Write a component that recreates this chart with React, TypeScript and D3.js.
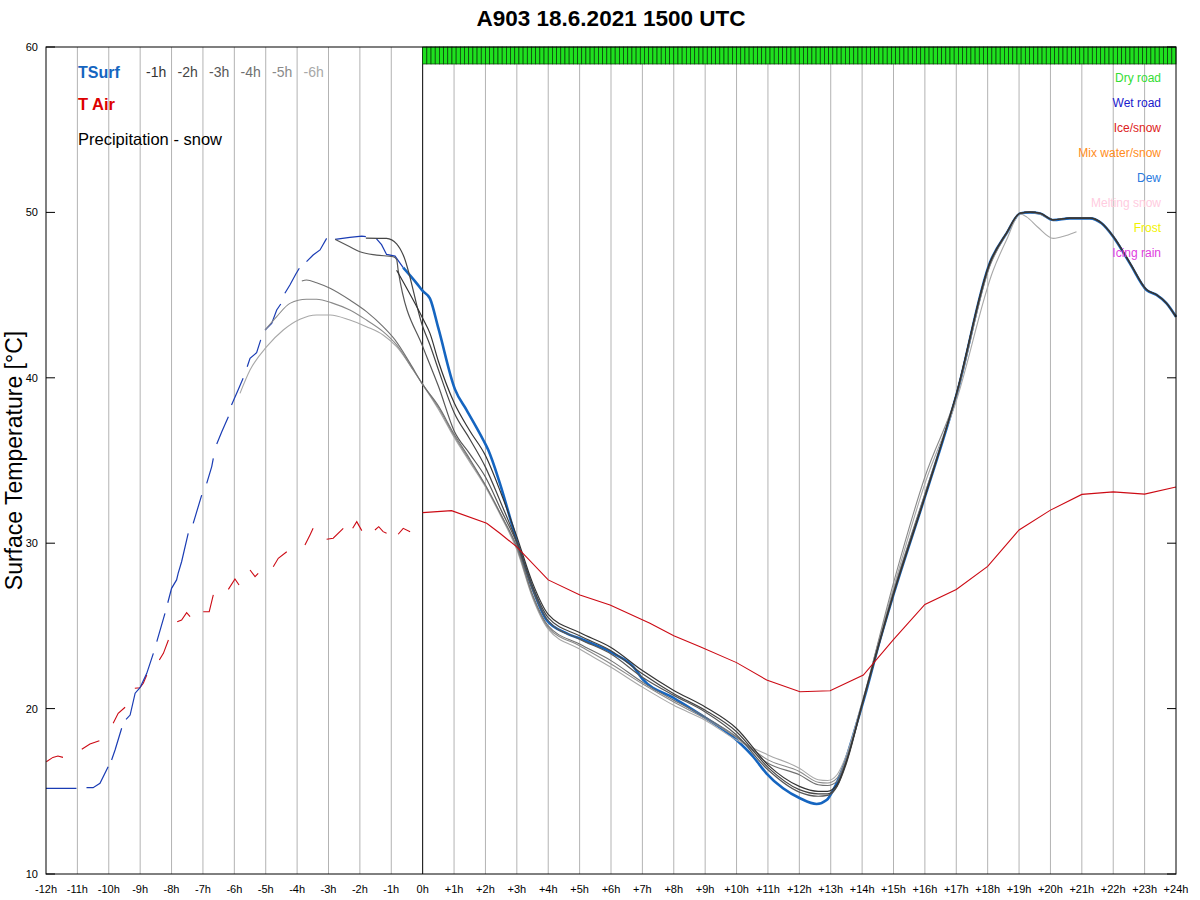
import React from "react";
import * as d3 from "d3";

type P = [number, number | null];

const TITLE = "A903 18.6.2021 1500 UTC";
const Y_LABEL = "Surface Temperature [°C]";
const yTicks = [10, 20, 30, 40, 50, 60];
const xTicks = d3.range(-12, 25);
const xTickLabel = (h: number) => (h > 0 ? `+${h}h` : `${h}h`);

const runLabels = ["-1h", "-2h", "-3h", "-4h", "-5h", "-6h"];
const runColors = ["#333333", "#454545", "#575757", "#707070", "#8a8a8a", "#a8a8a8"];

const roadLegend: [string, string][] = [
  ["Dry road", "#33dd33"],
  ["Wet road", "#1a1acc"],
  ["Ice/snow", "#dd2222"],
  ["Mix water/snow", "#ff8c1a"],
  ["Dew", "#2a7ae0"],
  ["Melting snow", "#ffcce0"],
  ["Frost", "#f2f200"],
  ["Icing rain", "#e040e0"],
];

// road state forecast (8-minute steps, 0h..+24h)
const roadStepH = 2 / 15;
const roadStates: string[] = Array.from({ length: 180 }, () => "Dry road");

// Observed surface temperature (null = gap)
const tsurfObs: P[] = [
  [-12, 15.18], [-11.03, 15.18], [-10.9, null],
  [-10.71, 15.22], [-10.5, 15.22], [-10.28, 15.48], [-10.02, 16.49], [-9.96, null],
  [-9.91, 16.89], [-9.8, 17.5], [-9.59, 18.81], [-9.5, null],
  [-9.45, 19.35], [-9.32, 19.61], [-9.16, 20.93], [-9.02, 21.23], [-8.99, 21.32], [-8.79, 22.13], [-8.58, 23.34], [-8.52, null],
  [-8.47, 24.05], [-8.21, 25.76], [-8.16, null],
  [-8.12, 26.4], [-8.0, 27.27], [-7.84, 27.78], [-7.79, 28.18], [-7.68, 28.88], [-7.47, 30.59], [-7.4, null],
  [-7.31, 31.2], [-7.04, 32.91], [-6.96, null],
  [-6.88, 33.62], [-6.72, 34.63], [-6.67, 35.13], [-6.6, null],
  [-6.56, 36.0], [-6.4, 36.74], [-6.19, 37.65], [-6.14, null],
  [-6.09, 38.36], [-5.88, 39.26], [-5.72, 39.97], [-5.65, null],
  [-5.59, 40.67], [-5.5, 41.18], [-5.29, 41.52], [-5.16, 42.29], [-5.09, null],
  [-5.02, 42.89], [-4.81, 43.29], [-4.65, 44.1], [-4.52, 44.46], [-4.45, null],
  [-4.39, 45.11], [-4.23, 45.61], [-4.04, 46.28], [-3.93, 46.62], [-3.8, null],
  [-3.7, 47.02], [-3.49, 47.42], [-3.27, 47.73], [-3.06, 48.43], [-2.9, null],
  [-2.79, 48.37], [-2.32, 48.49], [-1.94, 48.57], [-1.81, 48.53], [-1.6, null],
  [-1.47, 48.4], [-1.31, 48.05], [-1.15, 47.46], [-0.88, 47.36], [-0.62, 46.66],
];

// Observed air temperature (null = gap)
const tairObs: P[] = [
  [-11.99, 16.79], [-11.78, 17.05], [-11.62, 17.13], [-11.46, 17.05], [-11.2, null],
  [-10.86, 17.54], [-10.6, 17.86], [-10.3, 18.06], [-10.1, null],
  [-9.86, 19.11], [-9.7, 19.72], [-9.48, 20.08], [-9.3, null],
  [-9.17, 21.23], [-9.01, 21.26], [-8.9, 21.53], [-8.79, 22.03], [-8.6, null],
  [-8.39, 22.94], [-8.26, 23.34], [-8.1, 24.15], [-8.0, null],
  [-7.82, 25.25], [-7.68, 25.36], [-7.52, 25.8], [-7.41, 25.56], [-7.2, null],
  [-6.99, 25.86], [-6.8, 25.86], [-6.67, 26.87], [-6.4, null],
  [-6.19, 27.21], [-5.98, 27.84], [-5.85, 27.47], [-5.7, null],
  [-5.5, 28.38], [-5.34, 27.98], [-5.24, 28.18], [-5.0, null],
  [-4.76, 28.58], [-4.6, 29.09], [-4.33, 29.48], [-4.0, null],
  [-3.75, 29.89], [-3.59, 30.5], [-3.49, 30.9], [-3.3, null],
  [-3.06, 30.24], [-2.85, 30.3], [-2.53, 30.9], [-2.4, null],
  [-2.23, 30.9], [-2.1, 31.3], [-1.94, 30.76], [-1.7, null],
  [-1.52, 30.8], [-1.4, 31.0], [-1.26, 30.7], [-1.15, 30.6], [-0.95, null],
  [-0.78, 30.54], [-0.62, 30.9], [-0.4, 30.69],
];

// Air temperature forecast
const tairFc: [number, number][] = [
  [0, 31.85], [0.92, 31.97], [2.04, 31.2], [2.46, 30.6], [2.99, 29.79], [4.0, 27.78],
  [5.01, 26.87], [5.97, 26.26], [7.24, 25.16], [8.0, 24.4], [8.84, 23.74], [10.0, 22.78],
  [10.96, 21.73], [12.02, 21.02], [12.98, 21.08], [14.04, 22.03], [14.99, 24.15],
  [16.0, 26.3], [17.0, 27.2], [18.0, 28.6], [19.0, 30.8], [20.0, 32.0], [21.0, 32.95],
  [22.0, 33.1], [23.0, 32.97], [24.0, 33.4],
];

// Surface temperature forecast, current run (0h)
const tsurfFc: [number, number][] = [
  [-0.62, 46.66], [-0.19, 45.71], [0, 45.25], [0.23, 44.8], [0.5, 43.0], [1.03, 39.3],
  [1.4, 38.05], [1.93, 36.24], [2.09, 35.63], [2.46, 33.62], [2.99, 30.19], [3.52, 27.17],
  [3.95, 25.36], [4.59, 24.55], [5.12, 24.15], [6.07, 23.34], [6.71, 22.53], [7.0, 21.8],
  [8.0, 20.64], [8.84, 19.65], [10.0, 18.1], [10.53, 17.09], [10.95, 16.09], [11.48, 15.18],
  [12.02, 14.58], [12.55, 14.23], [12.87, 14.47], [13.08, 15.08], [13.4, 16.49], [13.83, 19.11],
  [14.14, 21.12], [14.57, 24.15], [15.0, 26.9], [16.0, 32.8], [17.02, 39.06], [18.08, 47.0],
  [18.6, 48.73], [19.03, 49.93], [19.35, 50.0], [19.67, 49.93], [20.09, 49.54], [20.62, 49.64],
  [21.26, 49.64], [21.63, 49.34], [22.0, 48.53], [22.53, 46.92], [23.06, 45.31], [23.38, 45.01],
  [23.7, 44.5], [24.0, 43.69],
];

// Earlier runs
const run1h: [number, number][] = [
  [-0.83, 46.5], [0, 43.6], [0.23, 42.7], [0.5, 41.0], [1, 38.5], [1.5, 36.8], [2, 35.3],
  [2.5, 33.0], [3, 30.4], [3.5, 27.6], [4, 25.7], [5, 24.6], [6, 23.7], [7, 22.3], [8, 21.1],
  [9, 20.1], [10, 18.8], [11, 16.6], [12, 15.3], [12.6, 15.0], [12.9, 15.0], [13.2, 15.4],
  [13.5, 16.8], [14, 20.3], [15, 26.95], [16, 32.8], [17, 39.0], [18.08, 47.0], [18.6, 48.75],
  [19.03, 49.95], [19.35, 50.02], [19.67, 49.95], [20.09, 49.55], [20.62, 49.65], [21.26, 49.65],
  [21.63, 49.35], [22, 48.55], [22.53, 46.95], [23.06, 45.33], [23.38, 45.02], [23.7, 44.5], [24, 43.68],
];
const run2h: [number, number][] = [
  [-1.81, 48.45], [-1.15, 48.43], [-0.83, 48.1], [-0.62, 47.43], [0, 43.1], [0.23, 42.0],
  [0.5, 40.5], [1, 37.9], [1.5, 36.3], [2, 34.6], [2.5, 32.4], [3, 30.1], [3.5, 27.4], [4, 25.5],
  [5, 24.4], [6, 23.5], [7, 22.1], [8, 20.9], [9, 19.9], [10, 18.6], [11, 16.45], [12, 15.1],
  [12.6, 14.85], [12.9, 14.85], [13.2, 15.3], [13.5, 16.7], [14, 20.2], [15, 26.9], [16, 32.8],
  [17, 39.0], [18.08, 47.0], [18.6, 48.75], [19.03, 49.95], [19.35, 50.02], [19.67, 49.95],
  [20.09, 49.55], [20.62, 49.65], [21.26, 49.65], [21.63, 49.35], [22, 48.55], [22.53, 46.95],
  [23.06, 45.33], [23.38, 45.02], [23.7, 44.5], [24, 43.68],
];
const run3h: [number, number][] = [
  [-2.79, 48.37], [-2.32, 47.92], [-2.0, 47.62], [-1.47, 47.42], [-0.94, 47.32], [-0.83, 47.16],
  [-0.78, 46.5], [0, 41.9], [0.23, 40.8], [0.5, 39.5], [1, 36.8], [1.5, 35.4], [2, 34.0],
  [2.5, 32.0], [3, 30.0], [3.5, 27.2], [4, 25.3], [5, 24.2], [6, 23.3], [7, 21.9], [8, 20.8],
  [9, 19.8], [10, 18.4], [11, 16.3], [12, 14.95], [12.6, 14.7], [12.9, 14.75], [13.2, 15.3],
  [13.5, 16.8], [14, 20.2], [15, 26.9], [16, 32.8], [17, 39.0], [18.08, 47.0], [18.6, 48.75],
  [19.03, 49.95], [19.35, 50.02], [19.67, 49.95], [20.09, 49.55], [20.62, 49.65], [21.26, 49.65],
  [21.63, 49.35], [22, 48.55], [22.53, 46.95], [23.06, 45.33], [23.38, 45.02], [23.7, 44.5], [24, 43.68],
];
const run4h: [number, number][] = [
  [-3.85, 45.85], [-3.7, 45.91], [-3.38, 45.75], [-2.95, 45.41], [-2.32, 44.7], [-1.79, 44.0],
  [-1.26, 43.09], [-0.88, 42.29], [-0.4, 40.87], [0, 39.6], [0.5, 38.3], [1, 36.6], [1.5, 35.1],
  [2, 33.5], [2.5, 31.7], [3, 29.8], [3.5, 26.9], [4, 25.0], [5, 23.9], [6, 22.9], [7, 21.6],
  [8, 20.5], [9, 19.5], [10, 18.3], [11, 16.7], [12, 16.0], [12.6, 15.4], [12.9, 15.35],
  [13.2, 15.6], [13.5, 16.9], [14, 20.2], [15, 27.1], [16, 33.0], [17, 38.9], [18.08, 46.9],
  [18.6, 48.75], [19.03, 49.95], [19.35, 50.02], [19.67, 49.95], [20.09, 49.55], [20.62, 49.65],
  [21.26, 49.65], [21.63, 49.35], [22, 48.55], [22.53, 46.95], [23, 45.4],
];
const run5h: [number, number][] = [
  [-5.02, 42.89], [-4.65, 43.7], [-4.23, 44.5], [-3.7, 44.75], [-3.38, 44.75], [-2.85, 44.5],
  [-2.32, 44.1], [-1.79, 43.49], [-1.26, 42.79], [-0.83, 41.99], [-0.3, 40.47], [0, 39.6],
  [0.5, 38.2], [1, 36.5], [1.5, 35.0], [2, 33.5], [2.5, 31.7], [3, 29.7], [3.5, 26.8], [4, 24.9],
  [5, 23.8], [6, 22.7], [7, 21.5], [8, 20.4], [9, 19.4], [10, 18.25], [11, 16.9], [12, 16.2],
  [12.6, 15.55], [12.9, 15.5], [13.2, 15.8], [13.5, 17.0], [14, 20.3], [15, 27.6], [16, 34.0],
  [17, 38.9], [18.08, 46.8], [18.6, 48.7], [19.03, 49.95], [19.35, 50.0], [19.67, 49.9],
  [20.09, 49.55], [20.62, 49.65], [21.26, 49.65], [21.63, 49.35], [22, 48.55],
];
const run6h: [number, number][] = [
  [-5.82, 39.06], [-5.5, 40.47], [-4.97, 41.88], [-4.44, 42.89], [-3.91, 43.54], [-3.38, 43.8],
  [-2.95, 43.8], [-2.32, 43.49], [-1.79, 43.09], [-1.26, 42.59], [-0.83, 41.88], [-0.3, 40.47],
  [0, 39.6], [0.5, 38.1], [1, 36.4], [1.5, 34.9], [2, 33.4], [2.5, 31.6], [3, 29.6], [3.5, 26.7],
  [4, 24.8], [5, 23.6], [6, 22.5], [7, 21.3], [8, 20.2], [9, 19.3], [10, 18.1], [11, 17.2],
  [12, 16.4], [12.6, 15.7], [12.9, 15.65], [13.2, 16.0], [13.5, 17.2], [14, 20.4], [15, 27.3],
  [16, 33.6], [17, 38.6], [18.18, 46.52], [18.6, 48.33], [19.03, 49.9], [19.24, 49.73],
  [19.6, 49.1], [20.09, 48.43], [20.5, 48.6], [20.83, 48.83],
];
const runs = [run1h, run2h, run3h, run4h, run5h, run6h];

const W = 1200;
const H = 900;
const FONT = "'Liberation Sans', Arial, Helvetica, sans-serif";

export default function App() {
  const x = d3.scaleLinear().domain([-12, 24]).range([46, 1176]);
  const y = d3.scaleLinear().domain([10, 60]).range([874, 47]);

  const gapLine = d3
    .line<P>()
    .defined((d) => d[1] !== null)
    .x((d) => x(d[0]))
    .y((d) => y(d[1] as number));
  const smooth = d3
    .line<[number, number]>()
    .x((d) => x(d[0]))
    .y((d) => y(d[1]))
    .curve(d3.curveMonotoneX);
  const straight = d3
    .line<[number, number]>()
    .x((d) => x(d[0]))
    .y((d) => y(d[1]));

  const [x0, x1] = x.range();
  const [yb, yt] = y.range();

  return (
    <svg
      width={W}
      height={H}
      style={{ position: "absolute", left: 0, top: 0, background: "#fff" }}
      fontFamily={FONT}
    >
      <rect x={0} y={0} width={W} height={H} fill="#fff" />
      <text x={(x0 + x1) / 2} y={26} textAnchor="middle" fontSize={22.5} fontWeight="bold" fill="#000">
        {TITLE}
      </text>

      {/* vertical grid */}
      {xTicks
        .filter((h) => h > -12 && h < 24 && h !== 0)
        .map((h) => (
          <line key={h} x1={x(h)} x2={x(h)} y1={yt} y2={yb} stroke="#b3b3b3" strokeWidth={1} />
        ))}
      <line x1={x(0)} x2={x(0)} y1={yt} y2={yb} stroke="#000" strokeWidth={1} />

      {/* road state bar */}
      {roadStates.map((s, i) => {
        const t0 = i * roadStepH;
        const t1 = Math.min(24, (i + 1) * roadStepH);
        const col = roadLegend.find((r) => r[0] === s)?.[1] ?? "#33dd33";
        return (
          <rect
            key={i}
            x={x(t0)}
            y={yt}
            width={x(t1) - x(t0)}
            height={17}
            fill={col === "#33dd33" ? "#1fe01f" : col}
            stroke="#083808"
            strokeWidth={0.7}
          />
        );
      })}

      {/* observed */}
      <path d={gapLine(tairObs) ?? ""} fill="none" stroke="#cc0a14" strokeWidth={1.1} />
      <path d={gapLine(tsurfObs) ?? ""} fill="none" stroke="#1a3cb4" strokeWidth={1.2} />

      {/* forecasts */}
      <path d={smooth(tsurfFc) ?? ""} fill="none" stroke="#1565c0" strokeWidth={2.6} />
      {runs
        .map((r, i) => ({ r, i }))
        .reverse()
        .map(({ r, i }) => (
          <path
            key={i}
            d={smooth(r) ?? ""}
            fill="none"
            stroke={runColors[i]}
            strokeWidth={i < 3 ? 1.2 : 1.1}
          />
        ))}
      <path d={straight(tairFc) ?? ""} fill="none" stroke="#cc0a14" strokeWidth={1.1} />

      {/* frame */}
      <rect x={x0} y={yt} width={x1 - x0} height={yb - yt} fill="none" stroke="#000" strokeWidth={1} />

      {/* y ticks */}
      {yTicks.map((v) => (
        <g key={v}>
          <line x1={x0} x2={x0 + 9} y1={y(v)} y2={y(v)} stroke="#000" />
          <line x1={x1 - 9} x2={x1} y1={y(v)} y2={y(v)} stroke="#000" />
          <text x={x0 - 8} y={y(v) + 4} textAnchor="end" fontSize={11} fill="#000">
            {v}
          </text>
        </g>
      ))}

      {/* x tick labels */}
      {xTicks.map((h) => (
        <text key={h} x={x(h)} y={893} textAnchor="middle" fontSize={11} fill="#000">
          {xTickLabel(h)}
        </text>
      ))}

      {/* y axis label */}
      <text
        transform={`translate(22,${(yt + yb) / 2}) rotate(-90)`}
        textAnchor="middle"
        fontSize={23}
        fill="#000"
      >
        {Y_LABEL}
      </text>

      {/* left legend */}
      <text x={78} y={78} fontSize={16} fontWeight="bold" fill="#1565c0">
        TSurf
      </text>
      {runLabels.map((l, i) => (
        <text key={l} x={146 + i * 31.5} y={77} fontSize={14} fill={runColors[i]}>
          {l}
        </text>
      ))}
      <text x={78} y={110} fontSize={16.5} fontWeight="bold" fill="#dd0000">
        T Air
      </text>
      <text x={78} y={145} fontSize={16.5} fill="#000">
        Precipitation - snow
      </text>

      {/* right legend */}
      {roadLegend.map(([l, c], i) => (
        <text key={l} x={1161} y={82 + i * 25} textAnchor="end" fontSize={12} fill={c}>
          {l}
        </text>
      ))}
    </svg>
  );
}
